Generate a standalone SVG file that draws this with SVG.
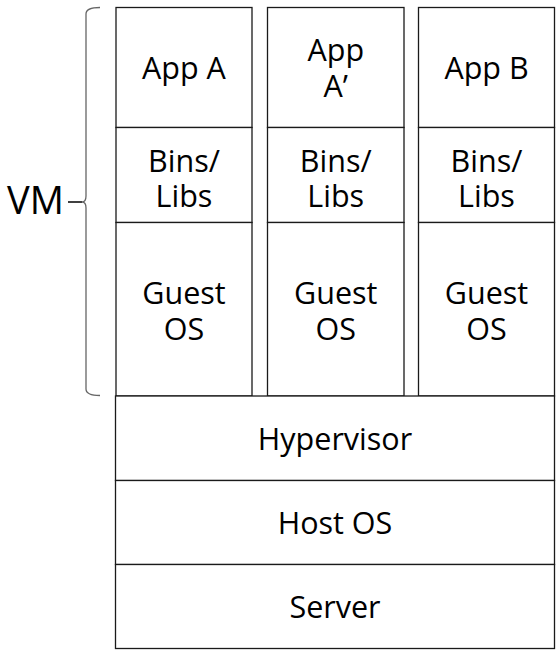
<svg xmlns="http://www.w3.org/2000/svg" width="558" height="650" viewBox="0 0 558 650">
<style>
.box{fill:#fff;stroke:#1a1a1a;stroke-width:1.3}
.t{font-family:"Open Sans","Noto Sans",sans-serif;font-size:30.5px;fill:#000;text-anchor:middle}
.vm{font-family:"Open Sans","Noto Sans",sans-serif;font-size:38px;fill:#000}
.brace{fill:none;stroke:#666;stroke-width:1.3}
.dash{fill:none;stroke:#000;stroke-width:1.5}
</style>
<rect width="558" height="650" fill="#fff"/>
<g id="vm1">
<rect class="box" x="116" y="7.5" width="136" height="120"/>
<text class="t" x="184" y="79">App A</text>
<rect class="box" x="116" y="127.5" width="136" height="95"/>
<text class="t" x="184" y="172">Bins/</text>
<text class="t" x="184" y="207">Libs</text>
<rect class="box" x="116" y="222.5" width="136" height="173.5"/>
<text class="t" x="184" y="304">Guest</text>
<text class="t" x="184" y="340">OS</text>
</g>
<g id="vm2">
<rect class="box" x="267.5" y="7.5" width="136.5" height="120"/>
<text class="t" x="335.75" y="61">App</text>
<text class="t" x="335.75" y="97">A’</text>
<rect class="box" x="267.5" y="127.5" width="136.5" height="95"/>
<text class="t" x="335.75" y="172">Bins/</text>
<text class="t" x="335.75" y="207">Libs</text>
<rect class="box" x="267.5" y="222.5" width="136.5" height="173.5"/>
<text class="t" x="335.75" y="304">Guest</text>
<text class="t" x="335.75" y="340">OS</text>
</g>
<g id="vm3">
<rect class="box" x="418.5" y="7.5" width="136" height="120"/>
<text class="t" x="486.5" y="79">App B</text>
<rect class="box" x="418.5" y="127.5" width="136" height="95"/>
<text class="t" x="486.5" y="172">Bins/</text>
<text class="t" x="486.5" y="207">Libs</text>
<rect class="box" x="418.5" y="222.5" width="136" height="173.5"/>
<text class="t" x="486.5" y="304">Guest</text>
<text class="t" x="486.5" y="340">OS</text>
</g>
<g id="hypervisor">
<rect class="box" x="115.5" y="396" width="439" height="84.5"/>
<text class="t" x="335" y="450">Hypervisor</text>
</g>
<g id="hostos">
<rect class="box" x="115.5" y="480.5" width="439" height="84"/>
<text class="t" x="335" y="534">Host OS</text>
</g>
<g id="server">
<rect class="box" x="115.5" y="564.5" width="439" height="84"/>
<text class="t" x="335" y="618">Server</text>
</g>
<g id="vm-label">
<text class="vm" x="7" y="214">VM</text>
</g>
<g id="connectors">
<path class="brace" d="M100,7.5 Q86,7.5 86,14 L86,196 Q86,202 82,202 Q86,202 86,208 L86,389 Q86,395.5 100,395.5"/>
<line class="dash" x1="68" y1="202" x2="82" y2="202"/>
</g>
</svg>
